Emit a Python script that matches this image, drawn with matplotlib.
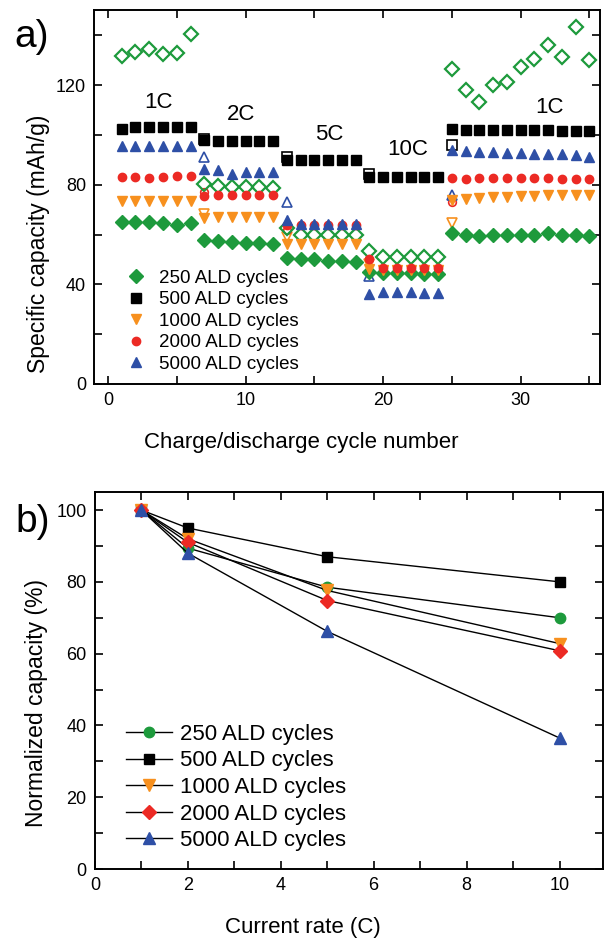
import matplotlib
matplotlib.use("Agg")
import matplotlib.pyplot as plt
import numpy as np

plt.rcParams['font.family'] = ['Liberation Sans', 'DejaVu Sans']

# ---- panel a data: discharge (filled) per cycle ----
cycles = np.arange(1, 36)
cap_250 = [65, 65, 65, 64.5, 64, 64.5,
           58, 57.5, 57, 56.5, 56.5, 56,
           50.5, 50, 50, 49.5, 49.5, 49,
           45, 44.5, 44.5, 44.5, 44, 44,
           60.5, 60, 59.5, 60, 60, 60, 60, 60.5, 60, 60, 59.5]
cap_500 = [102.5, 103, 103, 103, 103, 103,
           98, 97.5, 97.5, 97.5, 97.5, 97.5,
           90, 90, 90, 90, 90, 90,
           83.2, 83, 83, 83, 83, 83,
           102.4, 102, 102, 102, 102, 102, 102, 102, 101.5, 101.5, 101.5]
cap_1000 = [73.5, 73.5, 73.5, 73.5, 73.5, 73.5,
            66.5, 67, 67, 67, 67, 67,
            56, 56, 56, 56, 56, 56,
            46, 45.6, 45.6, 45.6, 45.6, 45.6,
            74, 74.4, 74.8, 75, 75.2, 75.5, 75.6, 75.8, 76, 76, 76]
cap_2000 = [83, 83, 82.5, 83, 83.5, 83.5,
            75.5, 76, 76, 76, 76, 76,
            64, 64, 64, 64, 64, 64,
            50, 46.5, 46.5, 46.5, 46.5, 46.5,
            82.5, 82.4, 82.5, 82.5, 82.5, 82.5, 82.5, 82.5, 82.4, 82.4, 82.4]
cap_5000 = [95.6, 95.6, 95.6, 95.6, 95.6, 95.6,
            86.4, 86, 84.4, 85.2, 85.2, 85.2,
            66, 64.4, 64.4, 64.4, 64.4, 64.4,
            36, 36.8, 37, 36.8, 36.6, 36.4,
            94, 93.6, 93.2, 93, 92.8, 92.6, 92.4, 92.4, 92.2, 92, 91.2]
# charge (open) capacity of 250 ALD cycles, all cycles
chg_250 = [131.6, 133.2, 134.4, 132.4, 132.8, 140.4,
           80.4, 79.6, 79.2, 79.2, 79.2, 78.8,
           62.8, 60, 60, 60, 60, 60,
           53.2, 50.8, 50.8, 50.8, 50.8, 50.8,
           126.4, 118, 113.2, 120, 121.2, 127.2, 130.4, 136, 131.2, 143.2, 130]
# open markers of other series at first cycle of each new rate
open_cycles = [7, 13, 19, 25]
open_500 = [98.5, 91.2, 84.4, 96]
open_1000 = [68.4, 59.2, 48, 64.8]
open_2000 = [77, 62, 50, 73.2]
open_5000 = [91.2, 73.2, 43.2, 76]

rate_labels = ['1C', '2C', '5C', '10C', '1C']
rate_label_x = [3.7, 9.7, 16.1, 21.8, 32.1]
rate_label_y = [113, 108, 100, 94, 111]

# ---- panel b data ----
rate = [1, 2, 5, 10]
norm_250 = [100, 89.4, 78.5, 70]
norm_500 = [100, 95, 87, 80]
norm_1000 = [100, 92, 77.6, 62.8]
norm_2000 = [100, 91, 74.8, 60.8]
norm_5000 = [100, 88, 66.2, 36.5]

labels = ['250 ALD cycles', '500 ALD cycles', '1000 ALD cycles',
          '2000 ALD cycles', '5000 ALD cycles']
colors = ['#1d9a3c', '#000000', '#f7901e', '#ec2a24', '#2e4fa6']
markers_a = ['D', 's', 'v', 'o', '^']
markers_b = ['o', 's', 'v', 'D', '^']

fig = plt.figure(figsize=(6.04, 9.4), dpi=100)

# ---------------- panel a ----------------
ax = fig.add_axes([0.156, 0.5915, 0.838, 0.3975])
caps = [cap_250, cap_500, cap_1000, cap_2000, cap_5000]
opens = [None, open_500, open_1000, open_2000, open_5000]
msz = [7.5, 7, 7.5, 6, 7.5]
for i in range(5):
    if opens[i] is not None:
        ax.plot(open_cycles, opens[i], linestyle='none', marker=markers_a[i],
                markersize=msz[i] - 0.5, markerfacecolor='white',
                markeredgecolor=colors[i], markeredgewidth=1.2)
ax.plot(cycles, chg_250, linestyle='none', marker='D', markersize=7,
        markerfacecolor='none', markeredgecolor=colors[0], markeredgewidth=1.6)
handles = []
for i in range(5):
    h, = ax.plot(cycles, caps[i], linestyle='none', marker=markers_a[i],
                 markersize=msz[i], color=colors[i], label=labels[i])
    handles.append(h)
for t, x, y in zip(rate_labels, rate_label_x, rate_label_y):
    ax.text(x, y, t, fontsize=16, ha='center', va='center')

ax.set_xlim(-1, 35.8)
ax.set_ylim(0, 150)
ax.set_xticks([0, 10, 20, 30])
ax.set_xticks(np.arange(0, 36, 5), minor=True)
ax.set_yticks([0, 40, 80, 120])
ax.set_yticks(np.arange(0, 150, 20), minor=True)
ax.tick_params(which='both', direction='in', top=True, right=True,
               labelsize=13, width=1.2, length=6, pad=6)
for s in ax.spines.values():
    s.set_linewidth(1.4)
ax.set_xlabel('Charge/discharge cycle number', fontsize=16)
ax.set_ylabel('Specific capacity (mAh/g)', fontsize=16.5)
ax.xaxis.set_label_coords(0.409, -0.128)
ax.yaxis.set_label_coords(-0.087, 0.374)
ax.legend(handles=handles, loc='lower left', bbox_to_anchor=(0.049, 0.01),
          frameon=False, fontsize=13.5, handletextpad=0.73, labelspacing=0.23,
          handlelength=1.0, borderaxespad=0.0)
fig.text(0.053, 0.961, 'a)', fontsize=28, ha='center', va='center')

# ---------------- panel b ----------------
bx = fig.add_axes([0.157, 0.0755, 0.841, 0.401])
norms = [norm_250, norm_500, norm_1000, norm_2000, norm_5000]
bmsz = [7.5, 7, 8.5, 7.5, 9]
for i in range(5):
    bx.plot(rate, norms[i], color='black', linewidth=1.0, marker=markers_b[i],
            markersize=bmsz[i], markerfacecolor=colors[i],
            markeredgecolor=colors[i], label=labels[i])
bx.set_xlim(0, 10.93)
bx.set_ylim(0, 105)
bx.set_xticks([0, 2, 4, 6, 8, 10])
bx.set_xticks(np.arange(0, 11, 1), minor=True)
bx.set_yticks([0, 20, 40, 60, 80, 100])
bx.set_yticks(np.arange(0, 105, 10), minor=True)
bx.tick_params(which='both', direction='in', top=True, right=True,
               labelsize=13, width=1.2, length=6, pad=6)
for s in bx.spines.values():
    s.set_linewidth(1.4)
bx.set_xlabel('Current rate (C)', fontsize=16)
bx.set_ylabel('Normalized capacity (%)', fontsize=16.5)
bx.xaxis.set_label_coords(0.41, -0.128)
bx.yaxis.set_label_coords(-0.093, 0.44)
bx.legend(loc='lower left', bbox_to_anchor=(0.043, 0.024), frameon=False,
          fontsize=16, handlelength=2.1, handletextpad=0.36,
          labelspacing=0.25, borderaxespad=0.0)
fig.text(0.055, 0.445, 'b)', fontsize=28, ha='center', va='center')

fig.savefig('out.png', dpi=100)
